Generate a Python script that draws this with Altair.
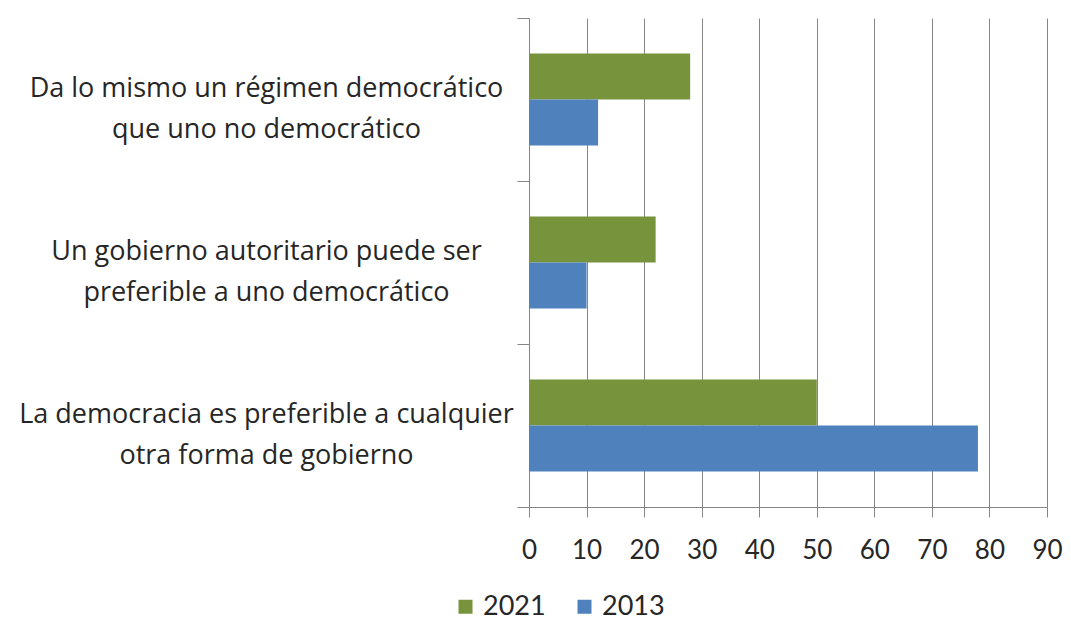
import altair as alt
import pandas as pd

categories = [
    "Da lo mismo un régimen democrático\nque uno no democrático",
    "Un gobierno autoritario puede ser\npreferible a uno democrático",
    "La democracia es preferible a cualquier\notra forma de gobierno",
]
series = ["2021", "2013"]
values_2021 = [28, 22, 50]
values_2013 = [12, 10, 78]
x_ticks = [0, 10, 20, 30, 40, 50, 60, 70, 80, 90]
colors = ["#77933C", "#4F81BD"]

rows = []
for c, v in zip(categories, values_2021):
    rows.append({"cat": c, "year": "2021", "value": v})
for c, v in zip(categories, values_2013):
    rows.append({"cat": c, "year": "2013", "value": v})
df = pd.DataFrame(rows)

CAT_FONT = "Open Sans"
NUM_FONT = "Lato"
GRAY = "#868686"
TEXT = "#262626"

chart = alt.Chart(df).mark_bar().encode(
    y=alt.Y(
        "cat:N",
        sort=categories,
        title=None,
        scale=alt.Scale(paddingInner=0, paddingOuter=0),
        axis=alt.Axis(
            labelExpr="split(datum.label, '\\n')",
            labelAlign="center",
            labelPadding=251,
            labelOffset=-11,
            labelFontSize=27,
            labelFont=CAT_FONT,
            labelColor=TEXT,
            labelLineHeight=41,
            labelLimit=0,
            tickBand="extent",
            tickSize=12,
            tickColor=GRAY,
            domainColor=GRAY,
            grid=False,
        ),
    ),
    yOffset=alt.YOffset("year:N", sort=series, scale=alt.Scale(paddingInner=0, paddingOuter=0.77)),
    x=alt.X(
        "value:Q",
        title=None,
        scale=alt.Scale(domain=[0, 90], nice=False),
        axis=alt.Axis(
            values=x_ticks,
            labelFontSize=26,
            labelFont=NUM_FONT,
            labelColor=TEXT,
            labelPadding=20,
            labelFlush=False,
            tickSize=10,
            tickColor=GRAY,
            domainColor=GRAY,
            grid=True,
            gridColor=GRAY,
            gridOpacity=1,
        ),
    ),
    color=alt.Color(
        "year:N",
        sort=series,
        scale=alt.Scale(domain=series, range=colors),
        legend=alt.Legend(
            title=None,
            orient="none",
            direction="horizontal",
            legendX=-77,
            legendY=575,
            symbolType="square",
            symbolSize=196,
            symbolStrokeWidth=0,
            labelFontSize=27,
            labelFont=NUM_FONT,
            labelColor=TEXT,
            columnPadding=25,
            labelOffset=4,
        ),
    ),
).properties(
    width=518,
    height=489,
    autosize=alt.AutoSizeParams(type="none"),
    padding={"left": 521, "top": 10, "right": 16, "bottom": 114},
).configure_view(stroke=None)

chart.save("out.html", embed_options={"renderer": "svg", "actions": False})
